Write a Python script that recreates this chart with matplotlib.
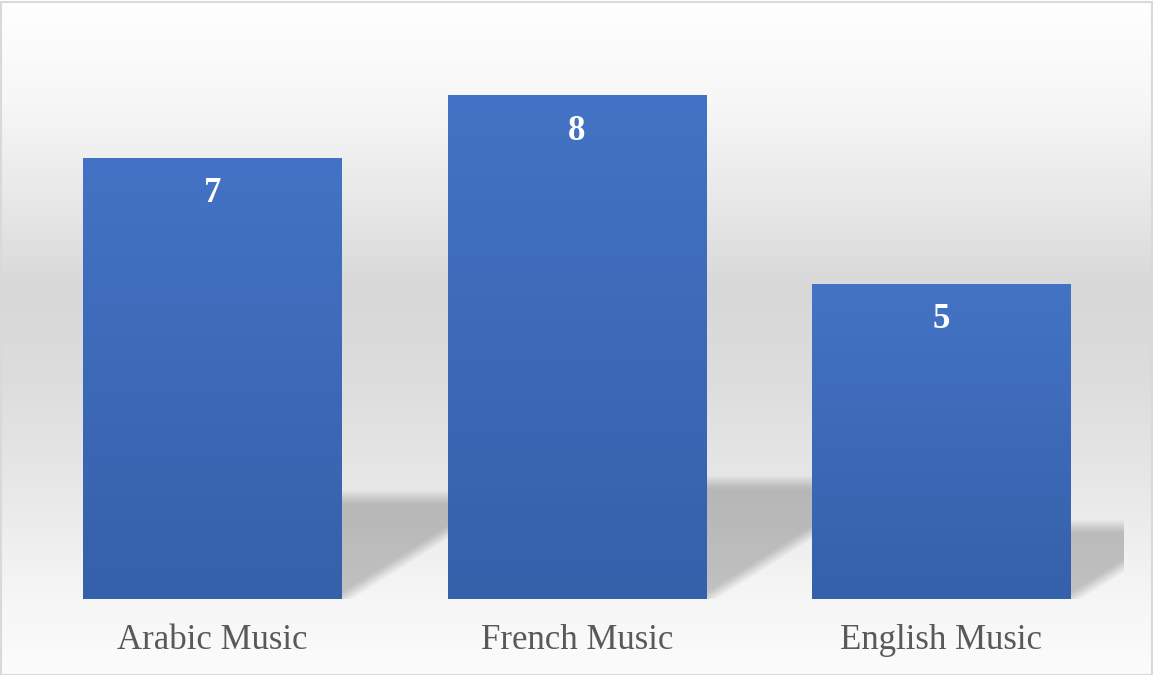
import numpy as np
import matplotlib
matplotlib.use("Agg")
import matplotlib.pyplot as plt
from matplotlib.colors import LinearSegmentedColormap
from matplotlib.patches import Polygon, Rectangle

categories = ["Arabic Music", "French Music", "English Music"]
values = [7, 8, 5]

W, H, DPI = 1153, 675, 100
fig = plt.figure(figsize=(W / DPI, H / DPI), dpi=DPI)

# background gradient (full figure)
bg = fig.add_axes([0, 0, 1, 1], zorder=0)
stops_y = np.array([0, 100, 200, 290, 380, 480, 600, 675]) / H
stops_v = np.array([255, 247, 232, 216, 221, 231, 246, 252]) / 255
yy = np.linspace(0, 1, 400)
col = np.interp(yy, stops_y, stops_v)
img = np.repeat(col[:, None], 2, axis=1)
img = np.dstack([img, img, img])
bg.imshow(img, extent=[0, 1, 1, 0], aspect="auto", interpolation="bilinear")
bg.set_xlim(0, 1); bg.set_ylim(1, 0)
bg.axis("off")

# main axes
left_px, right_px, bottom_px, top_px = 30.25, 1123.75, 599, 32
ax = fig.add_axes([left_px / W, (H - bottom_px) / H,
                   (right_px - left_px) / W, (bottom_px - top_px) / H], zorder=1)
ax.patch.set_alpha(0)
ax.set_xlim(-0.5, 2.5)
ax.set_ylim(0, 9)

x = np.arange(len(values))
width = 0.71

px_x = (right_px - left_px) / 3.0      # pixels per x data unit
px_y = (bottom_px - top_px) / 9.0      # pixels per y data unit

# shadows (blurred by layering)
n_layers = 11
a = 1 - (1 - 0.19) ** (1.0 / n_layers)
for xi, v in zip(x, values):
    h = 0.231 * v               # data units
    s = 23.1 * v / px_x         # horizontal skew, data units
    x0, x1 = xi - width / 2, xi + width / 2
    for k in range(n_layers):
        d = (k - (n_layers - 1) / 2) * 1.3   # px inset
        dy = d / px_y
        dx = 1.6 * d / px_x
        hh = h - dy
        frac = hh / h
        poly = Polygon([(x0, 0), (x1 - dx, 0), (x1 - dx + s * frac, hh), (x0 + s * frac, hh)],
                       closed=True, facecolor="black", edgecolor="none", alpha=a, zorder=1)
        ax.add_patch(poly)

# bars with vertical gradient
cmap = LinearSegmentedColormap.from_list("bar", ["#3560aa", "#4473c5"])
bars = ax.bar(x, values, width=width, color="#3d69b8", zorder=2)
grad = np.linspace(0, 1, 256)[:, None]
for b in bars:
    bx, by = b.get_x(), b.get_y()
    bw, bh = b.get_width(), b.get_height()
    im = ax.imshow(grad, cmap=cmap, origin="lower", aspect="auto",
                   extent=[bx, bx + bw, by, by + bh], zorder=3, interpolation="bilinear")
    im.set_clip_path(b)
ax.set_xlim(-0.5, 2.5)
ax.set_ylim(0, 9)

# value labels
for xi, v in zip(x, values):
    ax.text(xi, v - 36 / px_y, str(v), ha="center", va="center", color="white",
            fontsize=25, fontweight="bold", family="Liberation Serif", zorder=4)

ax.set_xticks(x)
ax.set_xticklabels(categories, fontsize=25, family="Liberation Serif", color="#595959")
ax.tick_params(axis="x", length=0, pad=18)
ax.set_yticks([])
for sp in ax.spines.values():
    sp.set_visible(False)

# figure border
fig.patches.append(Rectangle((0.5 / W, 0.5 / H), 1 - 2 / W, 1 - 2 / H, transform=fig.transFigure,
                             fill=False, edgecolor="#d9d9d9", linewidth=1.5, zorder=10))

fig.savefig("out.png", dpi=DPI)
